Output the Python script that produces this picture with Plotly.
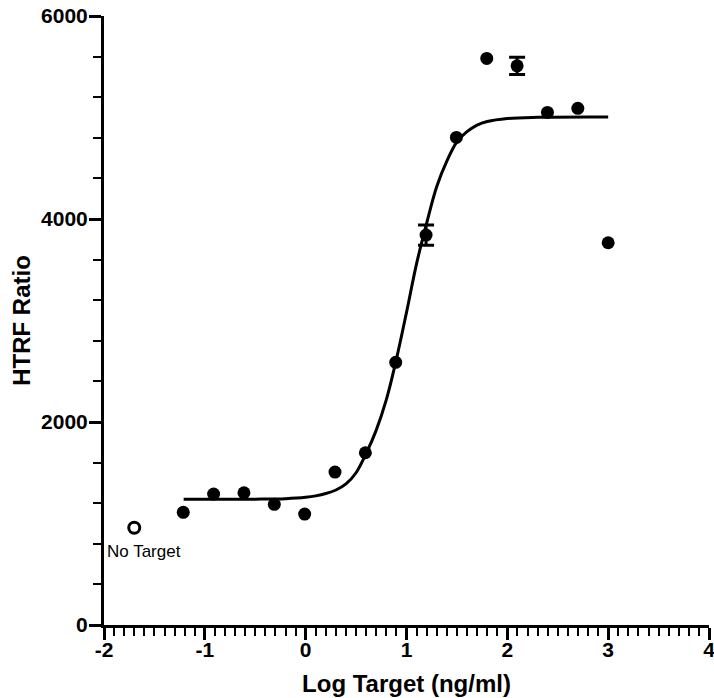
import plotly.graph_objects as go

# Data
log_target = [-1.214, -0.913, -0.612, -0.311, -0.010, 0.291, 0.592, 0.893,
              1.194, 1.495, 1.796, 2.097, 2.398, 2.699, 3.0]
htrf = [1110, 1290, 1303, 1189, 1093, 1507, 1697, 2588,
        3842, 4804, 5582, 5509, 5050, 5090, 3766]

err_x = [1.194, 2.097]
err_y = [3842, 5509]
err_sd = [100, 85]

no_target_x = [-1.7]
no_target_y = [958]

# fitted curve
curve_x = [-1.21, -0.5, -0.2, 0.0, 0.1, 0.2, 0.3, 0.4, 0.5, 0.6, 0.7, 0.8,
           0.9, 1.0, 1.1, 1.2, 1.3, 1.4, 1.5, 1.6, 1.7, 1.8, 2.0, 2.3, 3.0]
curve_y = [1238, 1240, 1245, 1258, 1272, 1295, 1330, 1390, 1500, 1690, 1920, 2220,
           2620, 3080, 3560, 3960, 4320, 4570, 4760, 4860, 4925, 4960, 4990, 5002, 5005]

x_ticks = [-2, -1, 0, 1, 2, 3, 4]
x_tick_labels = ["-2", "-1", "0", "1", "2", "3", "4"]
y_ticks = [0, 2000, 4000, 6000]
y_tick_labels = ["0", "2000", "4000", "6000"]

font_family = "Liberation Sans, Arial, sans-serif"

fig = go.Figure()

fig.add_trace(go.Scatter(
    x=curve_x, y=curve_y, mode="lines",
    line=dict(color="black", width=3, shape="spline", smoothing=1.0),
    hoverinfo="skip", showlegend=False))

fig.add_trace(go.Scatter(
    x=err_x, y=err_y, mode="markers",
    marker=dict(size=1, color="rgba(0,0,0,0)"),
    error_y=dict(type="data", array=err_sd, visible=True, color="black",
                 thickness=3, width=8),
    showlegend=False))

fig.add_trace(go.Scatter(
    x=log_target, y=htrf, mode="markers",
    marker=dict(size=13, color="black", line=dict(width=0)),
    showlegend=False))

fig.add_trace(go.Scatter(
    x=no_target_x, y=no_target_y, mode="markers",
    marker=dict(size=11, symbol="circle-open", color="black",
                line=dict(width=3, color="black")),
    showlegend=False))

fig.add_annotation(x=no_target_x[0], y=no_target_y[0], text="No Target",
                   showarrow=False, xanchor="center", yanchor="middle",
                   yshift=-24, xshift=10,
                   font=dict(family=font_family, size=17, color="black"))

axis_common = dict(
    showgrid=False, zeroline=False, showline=True, linecolor="black",
    linewidth=3, ticks="outside", ticklen=12, tickwidth=2.5, tickcolor="black",
    ticklabeloverflow="allow", automargin=False,
    tickfont=dict(family=font_family, size=21, color="black", weight="bold"),
)

fig.update_xaxes(
    range=[-2, 4], tickmode="array", tickvals=x_ticks, ticktext=x_tick_labels,
    ticklabelstandoff=-8,
    minor=dict(tickmode="linear", tick0=0, dtick=0.1, ticks="outside",
               ticklen=8, tickwidth=2, tickcolor="black", showgrid=False),
    title=dict(text="Log Target (ng/ml)", standoff=15,
               font=dict(family=font_family, size=24, color="black", weight="bold")),
    **axis_common)

fig.update_yaxes(
    range=[0, 6000], tickmode="array", tickvals=y_ticks, ticktext=y_tick_labels,
    ticklabelstandoff=-3,
    minor=dict(tickmode="linear", tick0=0, dtick=400, ticks="outside",
               ticklen=8, tickwidth=2, tickcolor="black", showgrid=False),
    title=dict(text="HTRF Ratio", standoff=4,
               font=dict(family=font_family, size=24, color="black", weight="bold")),
    **axis_common)

fig.update_layout(
    width=714, height=698, autosize=False,
    margin=dict(l=104, r=5, t=16, b=73),
    plot_bgcolor="white", paper_bgcolor="white",
)

fig.write_html("out.html")
